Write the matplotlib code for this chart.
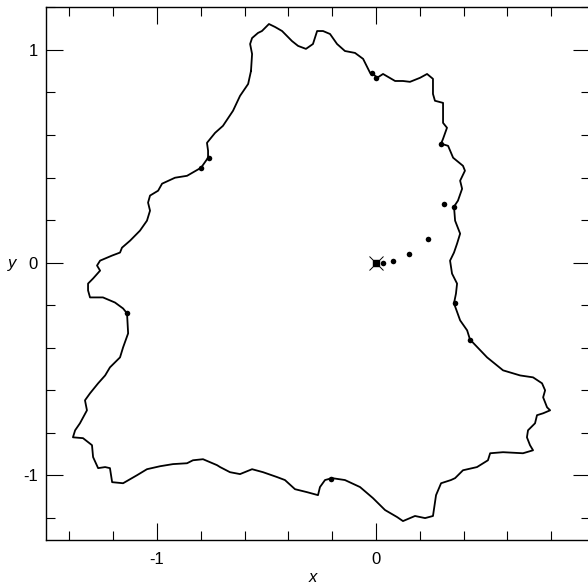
import numpy as np
import matplotlib
matplotlib.use("Agg")
import matplotlib.pyplot as plt
from matplotlib.ticker import FixedLocator, MultipleLocator

plt.rcParams['font.family'] = ['Liberation Sans', 'DejaVu Sans']
plt.rcParams['axes.unicode_minus'] = False

# boundary curve, read clockwise from the top-left shoulder
bx = [-0.571, -0.566, -0.575, -0.566, -0.539, -0.521, -0.489, -0.461, -0.429, -0.384,
      -0.356, -0.320, -0.288, -0.269, -0.242, -0.210, -0.178, -0.142, -0.096, -0.059,
      -0.027, -0.009, 0.005, 0.032, 0.087, 0.123, 0.155, 0.201, 0.233, 0.260,
      0.260, 0.269, 0.306, 0.306, 0.324, 0.306, 0.297, 0.329, 0.352, 0.397,
      0.406, 0.384, 0.393, 0.374, 0.356, 0.361, 0.384, 0.370, 0.356, 0.338,
      0.347, 0.370, 0.365, 0.356, 0.384, 0.416, 0.429,
      0.507, 0.580, 0.658, 0.717, 0.758, 0.772, 0.763, 0.781, 0.795, 0.763,
      0.735, 0.726, 0.694, 0.689, 0.703, 0.717, 0.671, 0.580, 0.521, 0.511,
      0.461, 0.397, 0.361, 0.342, 0.297, 0.274, 0.260, 0.224, 0.178, 0.123,
      0.096, 0.041, -0.014, -0.073, -0.142, -0.201, -0.233, -0.256, -0.265, -0.315,
      -0.370, -0.416, -0.452, -0.516, -0.566, -0.621, -0.667, -0.712, -0.726, -0.790,
      -0.836, -0.863, -0.927, -0.986, -1.046, -1.091, -1.155, -1.205, -1.215, -1.237,
      -1.269, -1.292, -1.297, -1.338, -1.384, -1.374, -1.352, -1.320, -1.329, -1.306,
      -1.269, -1.237, -1.215, -1.169, -1.155, -1.132, -1.137, -1.155, -1.192, -1.247,
      -1.306, -1.315, -1.315, -1.292, -1.260, -1.274, -1.260, -1.205, -1.169, -1.160,
      -1.123, -1.078, -1.046, -1.032, -1.041, -1.032, -0.995, -0.977, -0.918, -0.863,
      -0.799, -0.767, -0.767, -0.772, -0.735, -0.699, -0.653, -0.621, -0.584, -0.571]
by = [0.901, 0.981, 1.028, 1.056, 1.080, 1.089, 1.122, 1.108, 1.089, 1.042,
      1.019, 1.005, 1.028, 1.089, 1.089, 1.075, 1.028, 0.995, 0.986, 0.958,
      0.892, 0.883, 0.869, 0.887, 0.854, 0.854, 0.850, 0.869, 0.887, 0.864,
      0.793, 0.761, 0.751, 0.657, 0.634, 0.582, 0.559, 0.549, 0.493, 0.455,
      0.432, 0.385, 0.347, 0.291, 0.263, 0.197, 0.136, 0.089, 0.047, 0.009,
      -0.052, -0.099, -0.146, -0.192, -0.272, -0.319, -0.362,
      -0.446, -0.507, -0.531, -0.540, -0.568, -0.601, -0.634, -0.681, -0.695, -0.709,
      -0.718, -0.756, -0.789, -0.822, -0.859, -0.883, -0.897, -0.892, -0.897, -0.930,
      -0.962, -0.977, -1.014, -1.023, -1.038, -1.094, -1.192, -1.202, -1.192, -1.216,
      -1.197, -1.164, -1.108, -1.056, -1.023, -1.014, -1.023, -1.056, -1.094, -1.080,
      -1.066, -1.023, -1.009, -0.986, -0.972, -0.995, -0.986, -0.962, -0.953, -0.925,
      -0.930, -0.944, -0.948, -0.958, -0.972, -1.000, -1.038, -1.033, -0.967, -0.962,
      -0.967, -0.915, -0.859, -0.826, -0.822, -0.789, -0.756, -0.695, -0.648, -0.615,
      -0.568, -0.531, -0.493, -0.446, -0.399, -0.333, -0.239, -0.216, -0.188, -0.164,
      -0.164, -0.131, -0.099, -0.075, -0.038, -0.014, 0.009, 0.033, 0.047, 0.070,
      0.103, 0.150, 0.197, 0.244, 0.282, 0.315, 0.338, 0.371, 0.399, 0.408,
      0.446, 0.493, 0.526, 0.563, 0.610, 0.643, 0.714, 0.784, 0.840, 0.901]

# trajectory leaving the fixed point
tx = [0.032, 0.078, 0.151, 0.237, 0.311, 0.356]
ty = [0.000, 0.009, 0.038, 0.113, 0.277, 0.263]

# points sitting on the boundary
px = [0.297, 0.000, -0.018, -0.763, -0.799, -1.137, 0.361, 0.429, -0.205]
py = [0.559, 0.869, 0.892, 0.493, 0.446, -0.239, -0.192, -0.366, -1.019]

fx, fy = 0.0, 0.0

fig = plt.figure(figsize=(5.88, 5.87), dpi=100)
ax = fig.add_axes([46/588, 47/587, 544/588, 533/587])

ax.plot(bx, by, color='black', lw=1.3)
ax.plot(tx, ty, 'o', color='black', ms=4, mew=0)
ax.plot(px, py, 'o', color='black', ms=4, mew=0)
ax.plot([fx], [fy], 's', color='black', ms=5)
ax.plot([fx], [fy], 'x', color='black', ms=10, mew=0.7)

ax.set_xlim(-1.507, 0.977)
ax.set_ylim(-1.305, 1.202)

ax.xaxis.set_major_locator(FixedLocator([-1, 0]))
ax.yaxis.set_major_locator(FixedLocator([-1, 0, 1]))
ax.xaxis.set_minor_locator(MultipleLocator(0.2))
ax.yaxis.set_minor_locator(MultipleLocator(0.2))
ax.set_xticklabels(['-1', '0'])
ax.set_yticklabels(['-1', '0', '1'])

ax.tick_params(which='both', direction='in', top=True, right=True, width=0.8, labelsize=12)
ax.tick_params(which='major', length=12)
ax.tick_params(which='minor', length=6.5)
ax.tick_params(axis='x', pad=9)
ax.tick_params(axis='y', pad=6)
for s in ax.spines.values():
    s.set_linewidth(1.0)

ax.text(0.491, -0.071, 'x', transform=ax.transAxes, ha='center', va='center',
        style='italic', fontsize=12)
ax.text(-0.0625, 0.518, 'y', transform=ax.transAxes, ha='center', va='center',
        style='italic', fontsize=12)

fig.savefig('out.png', dpi=100)
